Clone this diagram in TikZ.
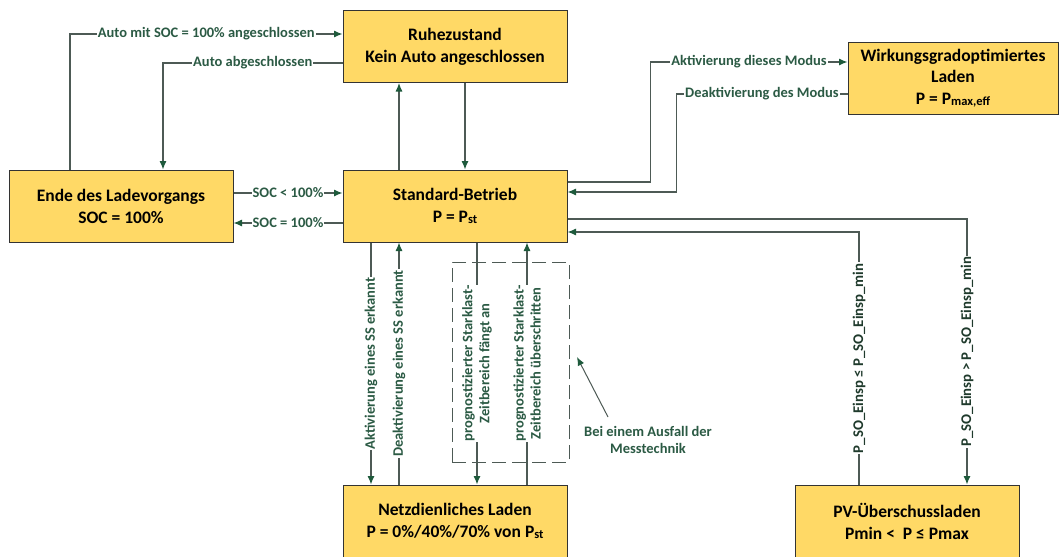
\documentclass[tikz,border=0pt]{standalone}
\usepackage{fontspec}
\setmainfont{Carlito}
\usetikzlibrary{arrows.meta}
\definecolor{boxfill}{HTML}{FFD966}
\definecolor{boxline}{HTML}{333333}
\definecolor{connc}{HTML}{4D5A55}
\definecolor{tipc}{HTML}{1E5A3C}
\definecolor{lblc}{HTML}{2B5A44}
\definecolor{pvlbl}{HTML}{1F3A2C}
\newcommand{\psub}[1]{\raisebox{-1.5pt}{\fontsize{12.5}{12.5}\selectfont #1}}
\begin{document}
\begin{tikzpicture}[x=1pt,y=-1pt,
  statebox/.style={draw=boxline, fill=boxfill, line width=1pt, minimum width=224pt, minimum height=72pt,
    inner sep=0pt, align=center, font=\fontsize{17.5}{22}\selectfont\bfseries},
  conn/.style={draw=connc, line width=1.1pt},
  arr/.style={conn, -{Latex[length=8.5pt,width=7pt,color=tipc]}},
  lbl/.style={fill=white, inner sep=1pt, text=lblc, align=center, font=\fontsize{14.5}{17}\selectfont\bfseries},
  vlbl/.style={lbl, rotate=90},
  pvl/.style={lbl, rotate=90, text=pvlbl, font=\fontsize{14.8}{17}\selectfont\bfseries},
]
\useasboundingbox (0,0) rectangle (1061,557);
\fill[white] (0,0) rectangle (1061,557);

% states
\node[statebox] (ruhe) at (455,46.5) {Ruhezustand\\Kein Auto angeschlossen};
\node[statebox] (std) at (455,206) {Standard-Betrieb\\P = P\psub{st}};
\node[statebox] (ende) at (121,206) {Ende des Ladevorgangs\\SOC = 100\%};
\node[statebox, minimum width=210pt, font=\fontsize{17.5}{21.5}\selectfont\bfseries] (wirk) at (953,78) {Wirkungsgradoptimiertes\\Laden\\P = P\psub{max,eff}};
\node[statebox] (netz) at (455,521) {Netzdienliches Laden\\P = 0\%/40\%/70\% von P\psub{st}};
\node[statebox] (pv) at (907,521) {PV-Überschussladen\\Pmin <\ \ P ≤ Pmax};

% top connectors
\draw[arr] ([xshift=-51pt]ende.north) |- node[lbl, pos=0.75] {Auto mit SOC = 100\% angeschlossen} ([yshift=12.5pt]ruhe.west);
\draw[arr] ([yshift=-16.5pt]ruhe.west) -| node[lbl, pos=0.25] {Auto abgeschlossen} ([xshift=42pt]ende.north);
\draw[arr] ([xshift=-56pt]std.north) -- ([xshift=-56pt]ruhe.south);
\draw[arr] ([xshift=10pt]ruhe.south) -- ([xshift=10pt]std.north);

% ende <-> std
\draw[arr] ([yshift=13pt]ende.east) -- node[lbl] {SOC < 100\%} ([yshift=13pt]std.west);
\draw[arr] ([yshift=-17pt]std.west) -- node[lbl] {SOC = 100\%} ([yshift=-17pt]ende.east);

% std <-> wirk
\draw[arr] ([yshift=24pt]std.east) -- ++(83,0) |- node[lbl, pos=0.75] {Aktivierung dieses Modus} ([yshift=16pt]wirk.west);
\draw[arr] ([yshift=-16pt]wirk.west) -- node[lbl] {Deaktivierung des Modus} ++(-171,0) |- ([yshift=14pt]std.east);

% std <-> pv
\draw[arr] ([yshift=-13pt]std.east) -| node[pvl, pos=0.75] {P\_SO\_Einsp > P\_SO\_Einsp\_min} ([xshift=60pt]pv.north);
\draw[arr] ([xshift=-48pt]pv.north) |- node[pvl, pos=0.25] {P\_SO\_Einsp ≤ P\_SO\_Einsp\_min} ([yshift=-26pt]std.east);

% std <-> netz
\draw[arr] ([xshift=-84pt]std.south) -- node[vlbl] {Aktivierung eines SS erkannt} ([xshift=-84pt]netz.north);
\draw[arr] ([xshift=-56pt]netz.north) -- node[vlbl] {Deaktivierung eines SS erkannt} ([xshift=-56pt]std.south);

% dashed frame
\node[draw=connc, line width=1pt, dash pattern=on 14pt off 6pt, minimum width=117pt, minimum height=200pt, inner sep=0pt] (ausfall) at (510.5,362) {};

\draw[arr] ([xshift=22pt]std.south) -- node[vlbl] {prognostizierter Starklast-\\Zeitbereich fängt an} ([xshift=22pt]netz.north);
\draw[arr] ([xshift=72pt]netz.north) -- node[vlbl] {prognostizierter Starklast-\\Zeitbereich überschritten} ([xshift=72pt]std.south);

% annotation
\node[lbl] (note) at (648,439.5) {Bei einem Ausfall der\\Messtechnik};
\coordinate (notetail) at (608,417);
\coordinate (notetip) at (577,357);
\draw[arr, line width=1pt] (notetail) -- (notetip);
\end{tikzpicture}
\end{document}
